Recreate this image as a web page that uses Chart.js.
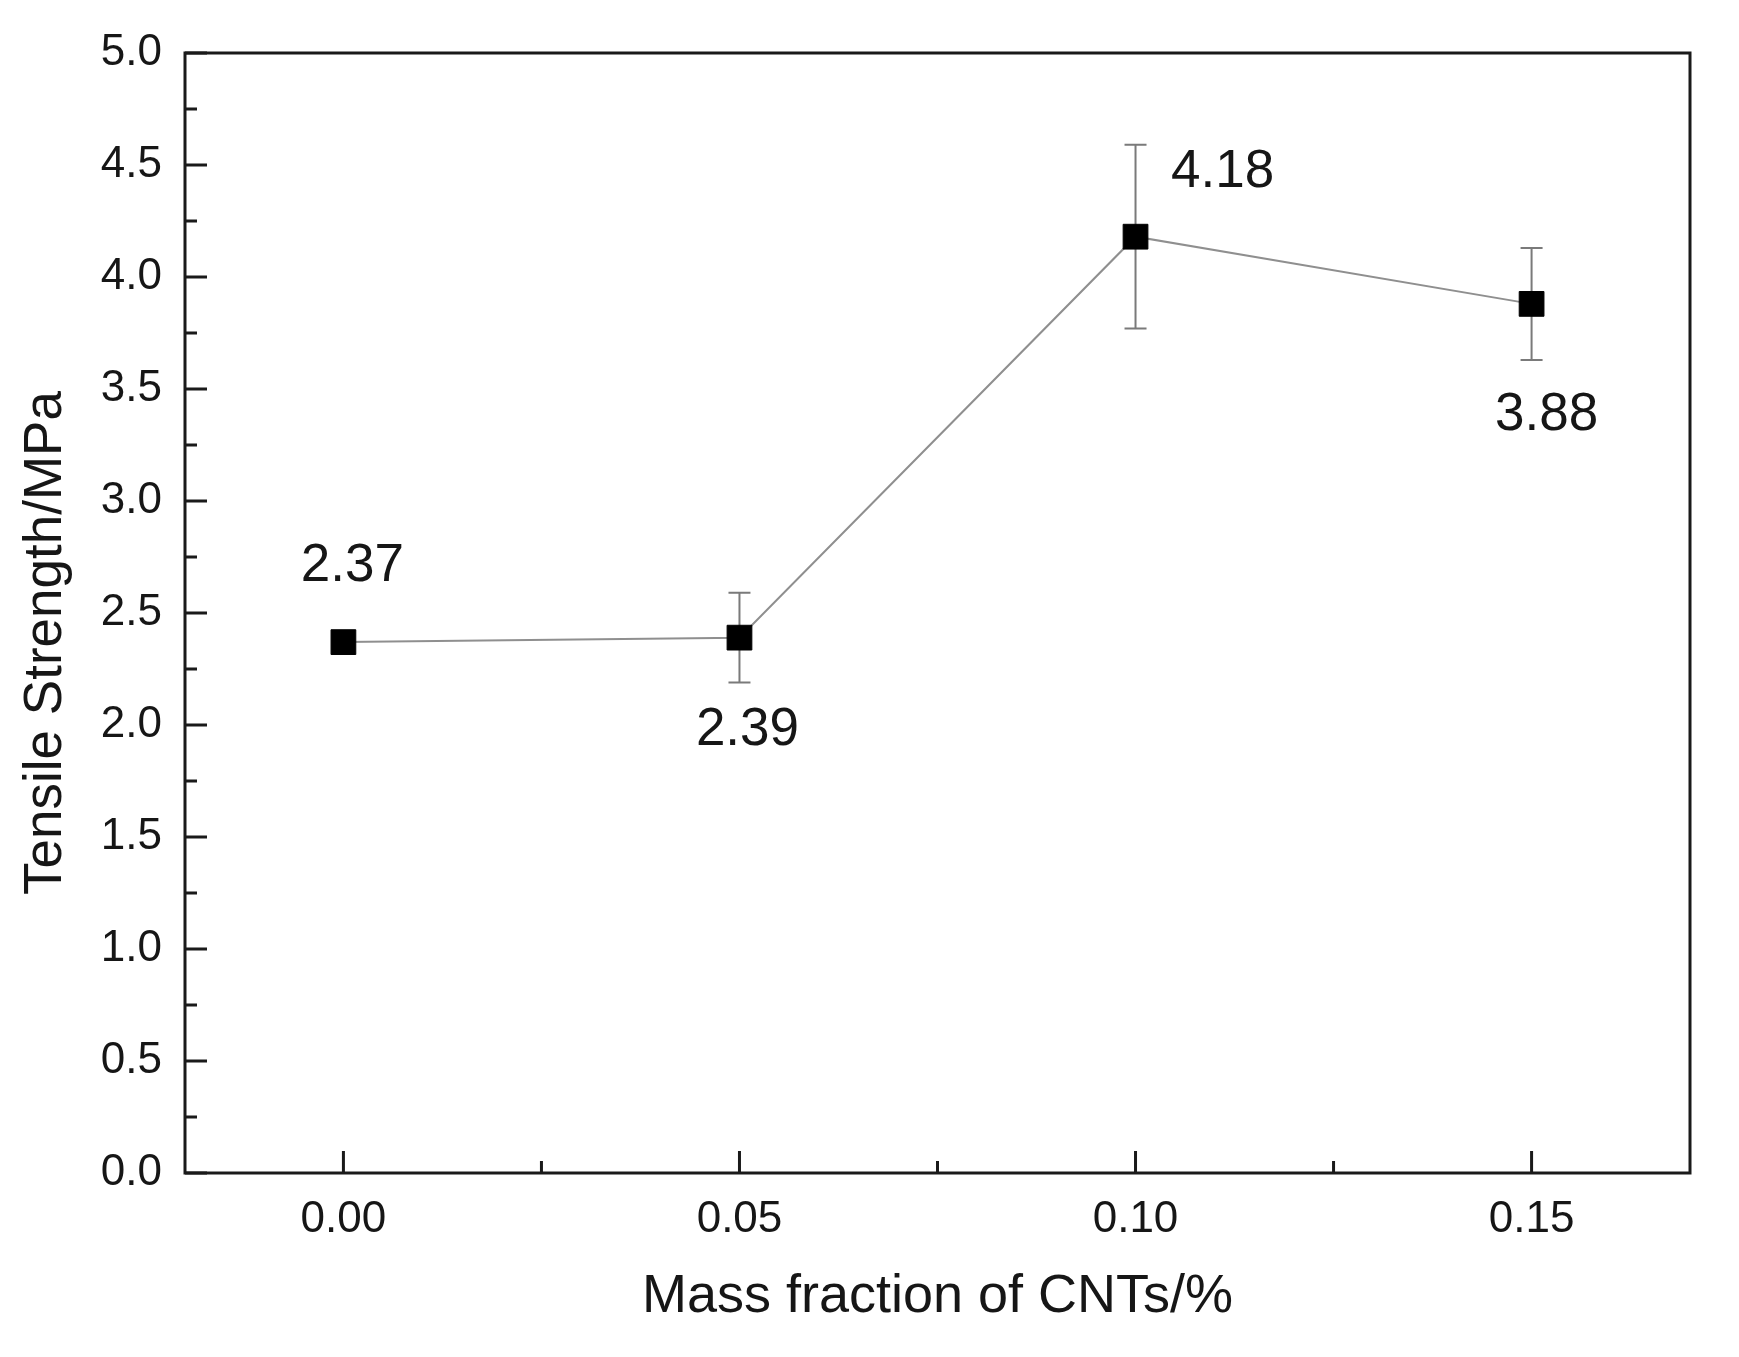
<!DOCTYPE html>
<html>
<head>
<meta charset="utf-8">
<script src="https://cdn.jsdelivr.net/npm/chart.js@4.4.1/dist/chart.umd.min.js"></script>
<style>
    body { margin: 0; background: #fff; }
    canvas { display: block; }
</style>
</head>
<body>
<canvas id="grafico" width="1739" height="1357"></canvas>
<script>
// Datos
const fraccionesCNT = [0.00, 0.05, 0.10, 0.15];
const resistencias = [2.37, 2.39, 4.18, 3.88];
const errores = [0.00, 0.20, 0.41, 0.25];
const etiquetasValor = ['2.37', '2.39', '4.18', '3.88'];

const ticksX = [0.00, 0.05, 0.10, 0.15];
const ticksXMenores = [0.025, 0.075, 0.125];
const ticksY = [0.0, 0.5, 1.0, 1.5, 2.0, 2.5, 3.0, 3.5, 4.0, 4.5, 5.0];
const ticksYMenores = [0.25, 0.75, 1.25, 1.75, 2.25, 2.75, 3.25, 3.75, 4.25, 4.75];

const tituloX = 'Mass fraction of CNTs/%';
const tituloY = 'Tensile Strength/MPa';

const FUENTE = "'Liberation Sans', Arial, sans-serif";
const COLOR_TEXTO = '#161616';

// Barras de error, por debajo de los marcadores
const pluginErrores = {
    id: 'errores',
    beforeDatasetsDraw(chart) {
        const { ctx, scales: { x, y } } = chart;
        ctx.save();
        ctx.strokeStyle = '#7a7a7a';
        ctx.lineWidth = 2;
        fraccionesCNT.forEach((fx, i) => {
            if (!errores[i]) return;
            const px = x.getPixelForValue(fx);
            const arriba = y.getPixelForValue(resistencias[i] + errores[i]);
            const abajo = y.getPixelForValue(resistencias[i] - errores[i]);
            ctx.beginPath();
            ctx.moveTo(px, arriba); ctx.lineTo(px, abajo);
            ctx.moveTo(px - 11, arriba); ctx.lineTo(px + 11, arriba);
            ctx.moveTo(px - 11, abajo); ctx.lineTo(px + 11, abajo);
            ctx.stroke();
        });
        ctx.restore();
    }
};

// Marco del área y ticks hacia adentro
const pluginMarco = {
    id: 'marco',
    afterDatasetsDraw(chart) {
        const { ctx, chartArea: a, scales: { x, y } } = chart;
        ctx.save();
        ctx.strokeStyle = '#1a1a1a';
        ctx.lineWidth = 3;
        ctx.strokeRect(a.left, a.top, a.right - a.left, a.bottom - a.top);
        ctx.beginPath();
        const tickX = (v, largo) => {
            const px = x.getPixelForValue(v);
            ctx.moveTo(px, a.bottom); ctx.lineTo(px, a.bottom - largo);
        };
        const tickY = (v, largo) => {
            const py = y.getPixelForValue(v);
            ctx.moveTo(a.left, py); ctx.lineTo(a.left + largo, py);
        };
        ticksX.forEach(v => tickX(v, 22));
        ticksXMenores.forEach(v => tickX(v, 12));
        ticksY.forEach(v => tickY(v, 22));
        ticksYMenores.forEach(v => tickY(v, 12));
        ctx.stroke();
        ctx.restore();
    }
};

// Etiquetas con el valor de cada punto y título del eje Y
const pluginEtiquetas = {
    id: 'etiquetas',
    afterDatasetsDraw(chart, args, opciones) {
        const { ctx, chartArea: a, scales: { x, y } } = chart;
        ctx.save();
        ctx.font = `53px ${FUENTE}`;
        ctx.fillStyle = COLOR_TEXTO;
        ctx.textAlign = 'center';
        ctx.textBaseline = 'middle';
        etiquetasValor.forEach((texto, i) => {
            const [dx, dy] = opciones.desplazamientos[i];
            ctx.fillText(texto,
                x.getPixelForValue(fraccionesCNT[i]) + dx,
                y.getPixelForValue(resistencias[i]) + dy);
        });

        // El título del eje Y está algo por debajo del centro del área
        ctx.translate(opciones.tituloY.x, (a.top + a.bottom) / 2 + opciones.tituloY.dy);
        ctx.rotate(-Math.PI / 2);
        ctx.fillText(tituloY, 0, 0);
        ctx.restore();
    }
};

const config = {
    type: 'scatter',
    data: {
        datasets: [{
            data: fraccionesCNT.map((fx, i) => ({ x: fx, y: resistencias[i] })),
            showLine: true,
            borderColor: '#8f8f8f',
            borderWidth: 2,
            pointStyle: 'rect',
            pointRadius: 17.5,
            pointBackgroundColor: '#000',
            pointBorderColor: '#000',
            pointBorderWidth: 1
        }]
    },
    options: {
        responsive: false,
        animation: false,
        devicePixelRatio: 1,
        events: [],
        layout: { padding: { left: 0, top: 53, right: 49, bottom: 0 } },
        plugins: {
            legend: { display: false },
            tooltip: { enabled: false },
            etiquetas: {
                desplazamientos: [[9, -76], [8, 93], [87, -64], [15, 112]],
                tituloY: { x: 46, dy: 30 }
            }
        },
        scales: {
            x: {
                type: 'linear',
                min: -0.02,
                max: 0.17,
                afterBuildTicks: s => { s.ticks = ticksX.map(v => ({ value: v })); },
                afterFit: s => { s.height = 184; },
                grid: { display: false },
                border: { display: false },
                ticks: {
                    padding: 12,
                    maxRotation: 0,
                    autoSkip: false,
                    color: COLOR_TEXTO,
                    font: { family: FUENTE, size: 44 },
                    callback: v => v.toFixed(2)
                },
                title: {
                    display: true,
                    text: tituloX,
                    color: COLOR_TEXTO,
                    font: { family: FUENTE, size: 54 },
                    padding: { top: 0, bottom: 27 }
                }
            },
            y: {
                min: 0,
                max: 5,
                afterBuildTicks: s => { s.ticks = ticksY.map(v => ({ value: v })); },
                afterFit: s => { s.width = 185; },
                grid: { display: false },
                border: { display: false },
                ticks: {
                    padding: 15,
                    autoSkip: false,
                    color: COLOR_TEXTO,
                    font: { family: FUENTE, size: 44 },
                    callback: v => v.toFixed(1)
                }
            }
        }
    },
    plugins: [pluginErrores, pluginMarco, pluginEtiquetas]
};

new Chart(document.getElementById('grafico'), config);
</script>
</body>
</html>
